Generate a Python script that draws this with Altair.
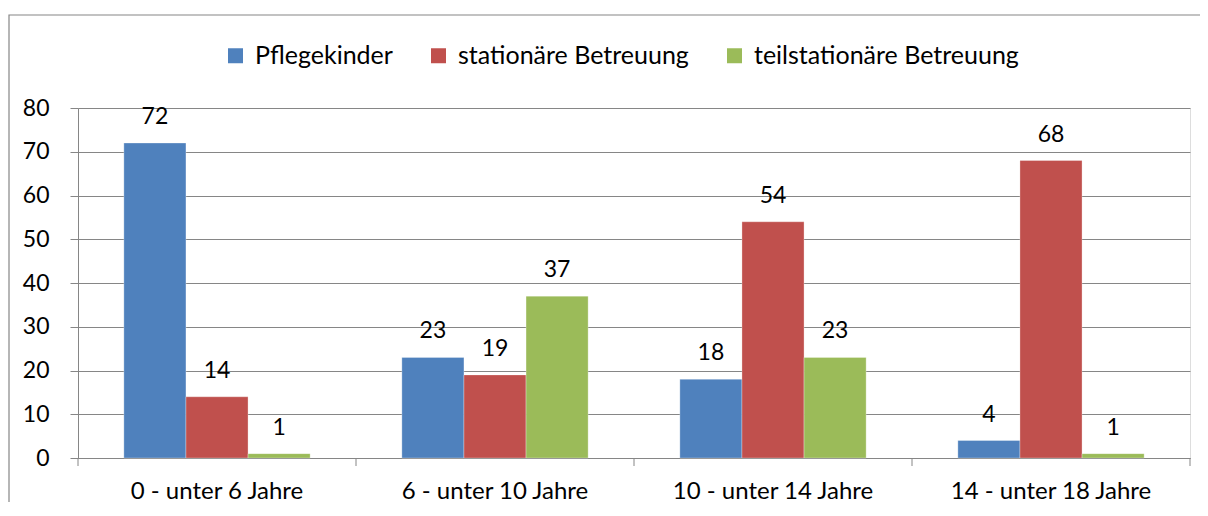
import altair as alt
import pandas as pd

categories = ["0 - unter 6 Jahre", "6 - unter 10 Jahre", "10 - unter 14 Jahre", "14 - unter 18 Jahre"]
series = ["Pflegekinder", "stationäre Betreuung", "teilstationäre Betreuung"]
pflegekinder = [72, 23, 18, 4]
stationaer = [14, 19, 54, 68]
teilstationaer = [1, 37, 23, 1]
colors = ["#4F81BD", "#C0504D", "#9BBB59"]
group_boundaries = [0, 1, 2, 3, 4]

rows = []
for s, vals in zip(series, [pflegekinder, stationaer, teilstationaer]):
    for c, v in zip(categories, vals):
        rows.append({"Kategorie": c, "Serie": s, "Wert": v})
df = pd.DataFrame(rows)

FONT = "Lato"
GRAY = "#868686"
FS = 24

x_enc = alt.X(
    "Kategorie:N",
    sort=categories,
    scale=alt.Scale(paddingInner=0.33, paddingOuter=0.165),
    axis=alt.Axis(
        title=None, labelAngle=0, ticks=False, labelPadding=21,
        labelFontSize=FS, labelFont=FONT, labelColor="black", labelLimit=400,
        domainColor=GRAY, grid=False,
    ),
)
xoff_enc = alt.XOffset("Serie:N", sort=series, scale=alt.Scale(paddingInner=0, paddingOuter=0))
y_enc = alt.Y(
    "Wert:Q",
    scale=alt.Scale(domain=[0, 80], nice=False),
    axis=alt.Axis(
        title=None, values=list(range(0, 81, 10)), grid=True, gridColor=GRAY,
        domainColor=GRAY, tickColor=GRAY, tickSize=8, labelPadding=21,
        labelFontSize=23, labelFont=FONT, labelColor="black",
    ),
)

base = alt.Chart(df).encode(x=x_enc, xOffset=xoff_enc, y=y_enc)

bars = base.mark_bar(stroke="white", strokeWidth=0.5, strokeOpacity=0.6).encode(
    color=alt.Color(
        "Serie:N",
        sort=series,
        scale=alt.Scale(domain=series, range=colors),
        legend=alt.Legend(
            title=None, orient="none", legendX=145, legendY=-65, direction="horizontal",
            symbolType="square", symbolSize=225, symbolStrokeWidth=0,
            labelFontSize=25, labelFont=FONT, labelColor="black", labelLimit=400,
            columnPadding=33, labelOffset=7,
        ),
    )
)

labels = base.mark_text(dy=-19, baseline="alphabetic", fontSize=23, font=FONT, color="black").encode(
    text=alt.Text("Wert:Q")
)

group_ticks = alt.Chart(pd.DataFrame({"b": group_boundaries})).mark_rule(
    color=GRAY, strokeWidth=1
).encode(
    x=alt.X("b:Q", scale=alt.Scale(domain=[0, 4], nice=False, zero=False), axis=None),
    y=alt.value(350),
    y2=alt.value(358),
)

frame = alt.Chart(pd.DataFrame({"a": [0]})).mark_rect(
    fill=None, stroke=GRAY, strokeWidth=1.2
).encode(
    x=alt.value(-69), x2=alt.value(1150), y=alt.value(-93), y2=alt.value(500)
)

chart = alt.layer(
    frame, alt.layer(bars, labels), group_ticks
).resolve_scale(x="independent").properties(
    width=1112,
    height=350,
    autosize=alt.AutoSizeParams(type="none"),
    padding={"left": 70, "top": 100, "right": 10, "bottom": 44},
).configure_view(stroke=None).configure(background="white")

chart.save("out.html", embed_options={"renderer": "svg", "actions": False})
